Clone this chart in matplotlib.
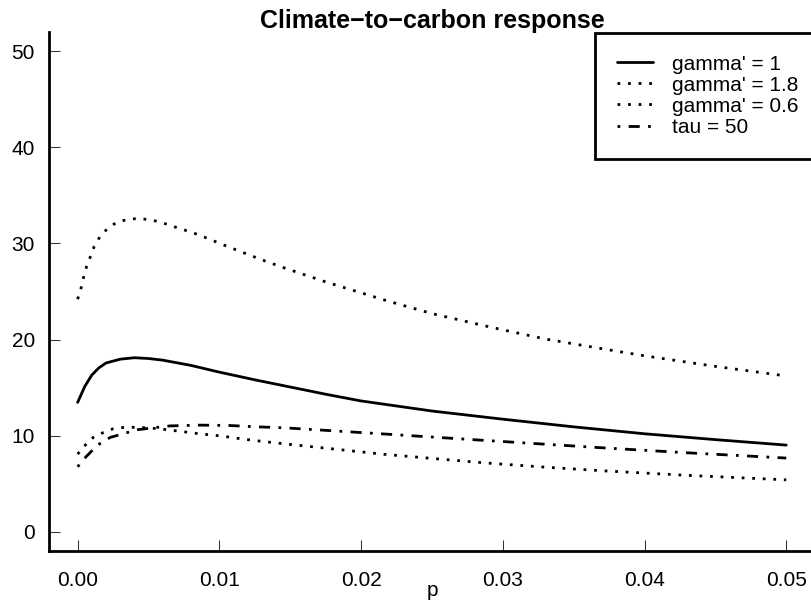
#!/usr/bin/env python3
"""Climate-to-carbon response curves (R base-graphics look)."""

import numpy as np
import matplotlib
matplotlib.use('Agg')
import matplotlib.pyplot as plt

plt.rcParams['font.family'] = ['Liberation Sans', 'DejaVu Sans']

# values
p_g1 = [0.0, 0.0005, 0.001, 0.0015, 0.002, 0.003, 0.004, 0.005, 0.006, 0.008,
        0.010, 0.0125, 0.015, 0.0175, 0.020, 0.025, 0.030, 0.035, 0.040, 0.045, 0.050]
y_g1 = [13.45, 15.1, 16.3, 17.05, 17.55, 17.95, 18.1, 18.02, 17.85, 17.3,
        16.6, 15.8, 15.05, 14.3, 13.6, 12.55, 11.7, 10.9, 10.18, 9.57, 9.0]

p_g18 = [0.0, 0.00023, 0.00042, 0.00063, 0.00089, 0.00117, 0.00157, 0.0021, 0.00275,
         0.0035, 0.0042, 0.005, 0.0058, 0.0065, 0.0072, 0.008, 0.0087, 0.0094, 0.0101,
         0.0116, 0.013, 0.0145, 0.0175, 0.0219, 0.025, 0.0294, 0.033, 0.037, 0.040,
         0.045, 0.050]
y_g18 = [24.2, 25.3, 26.5, 27.6, 28.6, 29.7, 30.7, 31.55, 32.2,
         32.5, 32.6, 32.5, 32.25, 31.9, 31.55, 31.2, 30.8, 30.4, 29.96,
         29.1, 28.3, 27.5, 26.0, 24.0, 22.7, 21.2, 20.05, 19.04, 18.3,
         17.2, 16.2]

p_g06 = [0.0, 0.00054, 0.0011, 0.0018, 0.0025, 0.0033, 0.0041, 0.005, 0.006, 0.0071,
         0.0086, 0.0102, 0.0117, 0.0133, 0.0148, 0.0217, 0.0287, 0.033, 0.0371,
         0.043, 0.050]
y_g06 = [8.06, 9.0, 9.8, 10.3, 10.7, 10.85, 10.85, 10.8, 10.65, 10.46,
         10.18, 9.94, 9.62, 9.34, 9.1, 8.03, 7.15, 6.7, 6.32,
         5.85, 5.38]

p_tau = [0.0, 0.00047, 0.0014, 0.0023, 0.0042, 0.0065, 0.0086, 0.0106, 0.0127,
         0.0146, 0.0214, 0.0284, 0.037, 0.043, 0.050]
y_tau = [6.74, 7.6, 9.0, 9.8, 10.6, 11.0, 11.08, 11.05, 10.9,
         10.8, 10.18, 9.52, 8.72, 8.2, 7.65]

labels = ["gamma' = 1", "gamma' = 1.8", "gamma' = 0.6", "tau = 50"]
xticks = [0.00, 0.01, 0.02, 0.03, 0.04, 0.05]
yticks = [0, 10, 20, 30, 40, 50]

W, H = 811, 603
fig = plt.figure(figsize=(W / 100, H / 100), dpi=100)
# plot region in pixels: left 49.3, right 814.6 (runs past the edge), top 32.3, bottom 550.7
ax = fig.add_axes([49.3 / W, 1 - 550.7 / H, (814.6 - 49.3) / W, (550.7 - 32.3) / H])

lw = 2.0
dotted = (0, (1, 2.8))
dashdot = (0, (1, 3, 4, 3))
ax.plot(p_g1, y_g1, color='black', lw=lw, ls='-', solid_capstyle='round', label=labels[0])
ax.plot(p_g18, y_g18, color='black', lw=lw, ls=dotted, label=labels[1])
ax.plot(p_g06, y_g06, color='black', lw=lw, ls=dotted, label=labels[2])
ax.plot(p_tau, y_tau, color='black', lw=lw, ls=dashdot, label=labels[3])

ax.set_xlim(-0.002, 0.052)
ax.set_ylim(-2, 52)
ax.set_xticks(xticks)
ax.set_xticklabels([f'{t:.2f}' for t in xticks])
ax.set_yticks(yticks)
ax.set_yticklabels([str(t) for t in yticks])
ax.tick_params(axis='both', direction='in', length=7.9, width=0.75, color='#333333',
               labelsize=15, labelcolor='black')
ax.tick_params(axis='x', pad=14.4)
ax.tick_params(axis='y', pad=10.3)

for side in ['top', 'right']:
    ax.spines[side].set_visible(False)
for side in ['left', 'bottom']:
    ax.spines[side].set_linewidth(2.0)
    ax.spines[side].set_color('black')

leg = ax.legend(loc='upper left', bbox_to_anchor=(595 / W, 1 - 32.7 / H),
                bbox_transform=fig.transFigure, fontsize=15, frameon=True,
                fancybox=False, shadow=False, borderaxespad=0, borderpad=1.05,
                handlelength=1.75, handletextpad=0.88, labelspacing=0.1)
frame = leg.get_frame()
frame.set_edgecolor('black')
frame.set_linewidth(2.0)
frame.set_facecolor('white')
frame.set_alpha(1)

fig.text(432 / W, 1 - 28 / H, 'Climate\u2212to\u2212carbon response', ha='center',
         va='baseline', fontsize=18, fontweight='bold')
fig.text(432 / W, 1 - 596 / H, 'p', ha='center', va='baseline', fontsize=15)

fig.savefig('out.png', dpi=100)
plt.close(fig)
